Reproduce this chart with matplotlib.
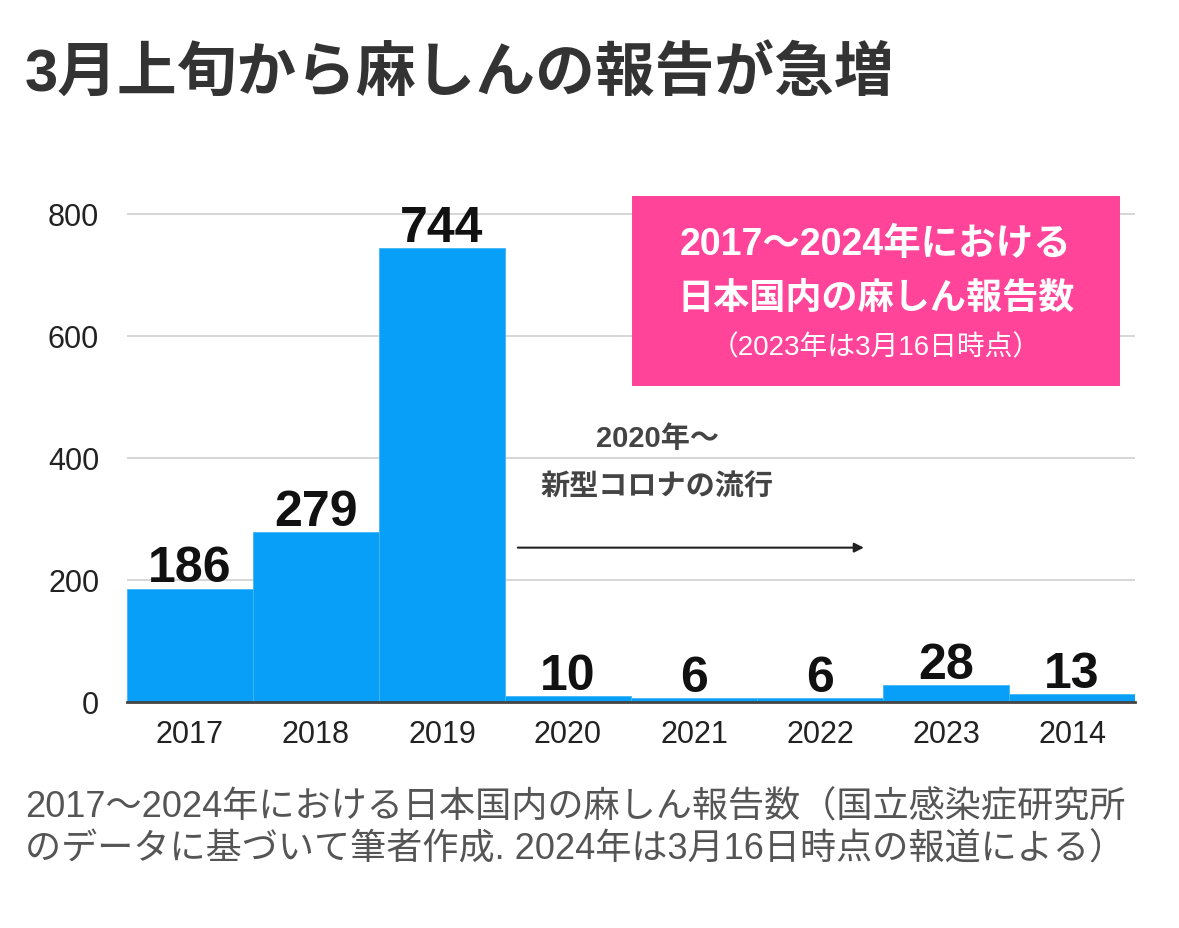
import matplotlib.pyplot as plt
from matplotlib.patches import Rectangle

plt.rcParams['font.family'] = ['Liberation Sans', 'Noto Sans CJK JP']

years = ['2017', '2018', '2019', '2020', '2021', '2022', '2023', '2014']
counts = [186, 279, 744, 10, 6, 6, 28, 13]
yticks = [0, 200, 400, 600, 800]

title = '3月上旬から麻しんの報告が急増'
box_lines = ['2017〜2024年における', '日本国内の麻しん報告数', '（2023年は3月16日時点）']
note_lines = ['2020年〜', '新型コロナの流行']
caption = ['2017〜2024年における日本国内の麻しん報告数（国立感染症研究所',
           'のデータに基づいて筆者作成. 2024年は3月16日時点の報道による）']

bar_color = '#079ff8'
pink = '#ff4499'

fig = plt.figure(figsize=(11.79, 9.29), dpi=100)
ax = fig.add_axes([0.1077, 0.2433, 0.855, 0.545])

x = range(len(years))
ax.bar(x, counts, width=1.0, color=bar_color, edgecolor='#45b6f7', linewidth=0.6, zorder=2)
ax.set_xlim(-0.5, len(years) - 0.5)
ax.set_ylim(0, 830)
ax.set_yticks(yticks)
ax.set_xticks(list(x))
ax.set_xticklabels(years)
ax.tick_params(length=0, labelsize=22, colors='#222222')
ax.tick_params(axis='y', pad=20)
ax.tick_params(axis='x', pad=12)
ax.grid(axis='y', color='#d0d0d0', linewidth=1.2, zorder=0)
for s in ['top', 'right', 'left']:
    ax.spines[s].set_visible(False)
ax.spines['bottom'].set_color('#444444')
ax.spines['bottom'].set_linewidth(2)
ax.spines['bottom'].set_zorder(3)

for xi, v in zip(x, counts):
    ax.annotate(str(v), (xi, v), xytext=(0, -2), textcoords='offset points',
                ha='center', va='bottom', fontsize=36, fontweight='bold', color='#111111')

# arrow for the covid period
ax.annotate('', xy=(5.37, 253), xytext=(2.58, 253),
            arrowprops=dict(arrowstyle='-|>', color='#222222', lw=1.5, mutation_scale=14))
ax.text(3.71, 432, note_lines[0], ha='center', va='center', fontsize=21,
        fontweight='bold', color='#444444')
ax.text(3.71, 353, note_lines[1], ha='center', va='center', fontsize=21,
        fontweight='bold', color='#444444')

# pink label box
fig.patches.append(Rectangle((0.536, 0.583), 0.414, 0.2045, transform=fig.transFigure,
                             facecolor=pink, edgecolor='none', zorder=5))
fig.text(0.743, 1 - 245 / 929, box_lines[0], ha='center', va='center', fontsize=27,
         fontweight='bold', color='white', zorder=6)
fig.text(0.743, 1 - 299 / 929, box_lines[1], ha='center', va='center', fontsize=26,
         fontweight='bold', color='white', zorder=6)
fig.text(0.743, 1 - 348 / 929, box_lines[2], ha='center', va='center', fontsize=20,
         color='white', zorder=6)

fig.text(0.021, 1 - 75 / 929, title, ha='left', va='center', fontsize=43,
         fontweight='bold', color='#333333')
fig.text(0.021, 1 - 808 / 929, caption[0], ha='left', va='center', fontsize=26, color='#555555')
fig.text(0.021, 1 - 850 / 929, caption[1], ha='left', va='center', fontsize=26, color='#555555')

fig.savefig('out.png', dpi=100)
